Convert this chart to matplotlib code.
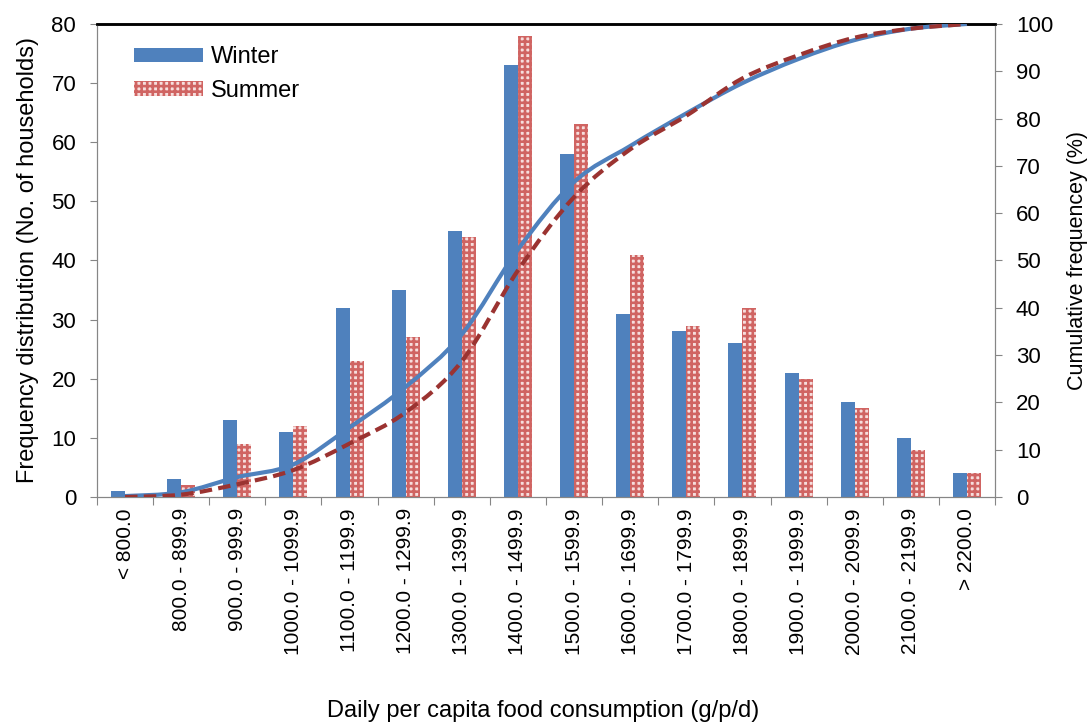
import numpy as np
import matplotlib
matplotlib.use("Agg")
from matplotlib import pyplot as plt
from matplotlib.path import Path
from matplotlib.patches import PathPatch, Patch

plt.rcParams['font.family'] = ['Liberation Sans', 'DejaVu Sans']
plt.rcParams['hatch.linewidth'] = 1.9

categories = ['< 800.0', '800.0 - 899.9', '900.0 - 999.9', '1000.0 - 1099.9',
              '1100.0 - 1199.9', '1200.0 - 1299.9', '1300.0 - 1399.9',
              '1400.0 - 1499.9', '1500.0 - 1599.9', '1600.0 - 1699.9',
              '1700.0 - 1799.9', '1800.0 - 1899.9', '1900.0 - 1999.9',
              '2000.0 - 2099.9', '2100.0 - 2199.9', '> 2200.0']
winter = [1, 3, 13, 11, 32, 35, 45, 73, 58, 31, 28, 26, 21, 16, 10, 4]
summer = [0, 2, 9, 12, 23, 27, 44, 78, 63, 41, 29, 32, 20, 15, 8, 4]
# cumulative frequency (%)
winter_cum = [0.2, 1.0, 4.2, 6.9, 14.7, 23.3, 34.4, 52.3, 66.6, 74.2, 81.1, 87.5, 92.6, 96.6, 99.0, 100.0]
summer_cum = [0.0, 0.5, 2.7, 5.7, 11.3, 17.9, 28.7, 47.9, 63.4, 73.5, 80.6, 88.5, 93.4, 97.1, 99.0, 100.0]

blue = '#4f81bd'
red = '#d06462'
pink = '#f6dedd'
darkred = '#9b3331'


def smooth_path(x, y):
    # Catmull-Rom style bezier through the points (like Excel's smoothed line)
    pts = np.column_stack([x, y]).astype(float)
    verts = [pts[0]]
    codes = [Path.MOVETO]
    n = len(pts)
    for i in range(n - 1):
        p0 = pts[i - 1] if i > 0 else pts[i]
        p1 = pts[i]
        p2 = pts[i + 1]
        p3 = pts[i + 2] if i + 2 < n else pts[i + 1]
        c1 = p1 + (p2 - p0) / 6.0
        c2 = p2 - (p3 - p1) / 6.0
        verts += [c1, c2, p2]
        codes += [Path.CURVE4] * 3
    return Path(verts, codes)


fig = plt.figure(figsize=(10.92, 7.26), dpi=100)
ax = fig.add_axes([0.0888, 0.3154, 0.8224, 0.6516])
ax2 = ax.twinx()

x = np.arange(len(categories))
w = 0.25
ax.bar(x - w / 2, winter, w, color=blue, linewidth=0, zorder=2)
ax.bar(x + w / 2, summer, w, facecolor=pink, edgecolor=red,
       hatch='+++', linewidth=0, zorder=2)

ax.set_xlim(-0.5, len(categories) - 0.5)
ax.set_ylim(0, 80)
ax.set_yticks(np.arange(0, 81, 10))
ax.set_xticks(np.arange(-0.5, len(categories), 1.0))
ax.set_xticklabels([])
ax.set_xticks(x, minor=True)
ax.set_xticklabels(categories, minor=True, rotation=90, fontsize=15)
ax.tick_params(axis='x', which='minor', length=0, pad=8)
ax.tick_params(axis='x', which='major', length=6, color='#868686', direction='out')
ax.tick_params(axis='y', labelsize=16, length=5, color='#868686', pad=10)

ax2.add_patch(PathPatch(smooth_path(x, winter_cum), fill=False, edgecolor=blue,
                        linewidth=3, zorder=3))
ax2.add_patch(PathPatch(smooth_path(x, summer_cum), fill=False, edgecolor=darkred,
                        linewidth=3, linestyle=(0, (3, 1.5)), zorder=3))
ax2.set_ylim(0, 100)
ax2.set_yticks(np.arange(0, 101, 10))
ax2.tick_params(axis='y', labelsize=16, length=5, color='#868686', pad=10)

for a in (ax, ax2):
    for s in ('left', 'right', 'bottom'):
        a.spines[s].set_color('#868686')
    a.spines['top'].set_color('black')
    a.spines['top'].set_linewidth(1.8)

ax.set_ylabel('Frequency distribution (No. of households)', fontsize=17, labelpad=9)
ax2.set_ylabel('Cumulative frequencey (%)', fontsize=15.5, labelpad=10)
fig.text(0.497, 0.012, 'Daily per capita food consumption (g/p/d)', ha='center', fontsize=17)

handles = [Patch(facecolor=blue, linewidth=0),
           Patch(facecolor=pink, edgecolor=red, hatch='+++', linewidth=0)]
ax.legend(handles, ['Winter', 'Summer'], loc='upper left', bbox_to_anchor=(0.018, 0.998),
          frameon=False, fontsize=17, handlelength=2.9, handleheight=0.55,
          labelspacing=0.5, handletextpad=0.35)

fig.savefig('out.png', dpi=100)
